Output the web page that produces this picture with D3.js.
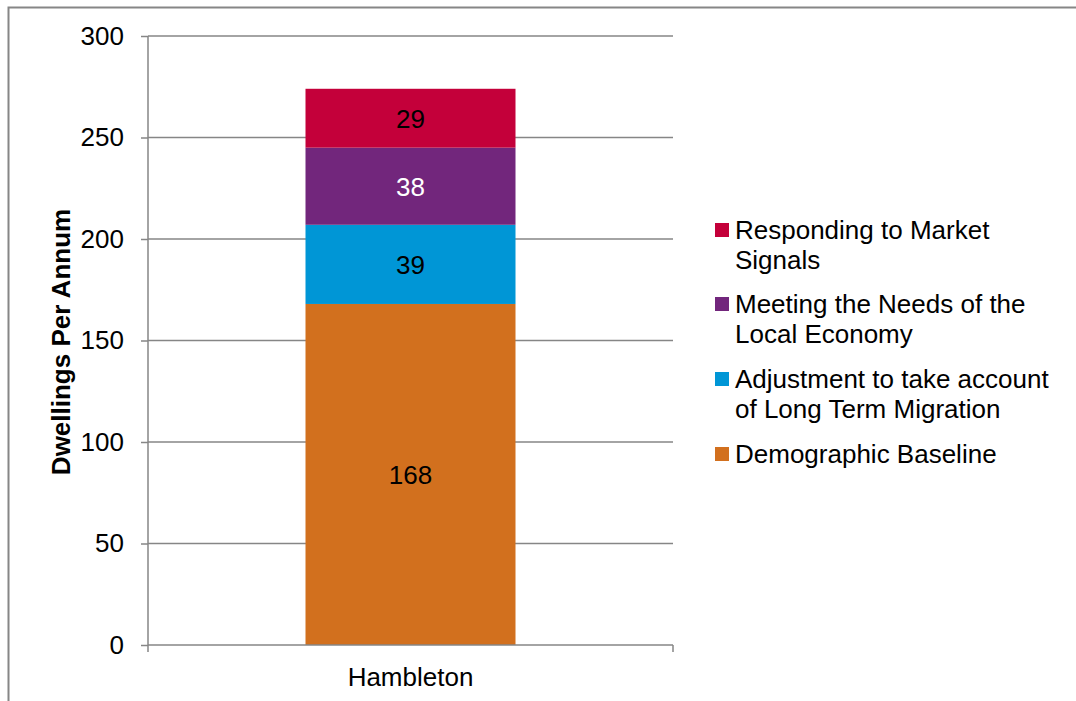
<!DOCTYPE html>
<html><head><meta charset="utf-8">
<script src="https://cdn.jsdelivr.net/npm/d3@7"></script>
<style>body{margin:0;background:#fff}svg{display:block;font-family:"Liberation Sans",Arial,sans-serif}</style>
</head><body><svg id="c" width="1076" height="701"></svg>
<script>
const categories = ["Hambleton"];
const seriesNames = ["Demographic Baseline","Adjustment to take account of Long Term Migration","Meeting the Needs of the Local Economy","Responding to Market Signals"];
const seriesValues = [[168],[39],[38],[29]];
const seriesColors = ["#D2701E","#0096D6","#72267C","#C4003A"];
const labelColors = ["#000","#000","#fff","#000"];
const legendLines = [["Responding to Market","Signals"],["Meeting the Needs of the","Local Economy"],["Adjustment to take account","of Long Term Migration"],["Demographic Baseline"]];
const yTicks = [0,50,100,150,200,250,300];

(function(){
const FS = 26;
const svg = d3.select("#c");
svg.append("path").attr("d","M8.5,701 V7.5 H1076").attr("fill","none").attr("stroke","#868686").attr("stroke-width",2);

const pL=148, pR=673, pT=36, pB=645;
const y = d3.scaleLinear().domain([0,300]).range([pB,pT]);
const x = d3.scaleBand().domain(categories).range([pL,pR]).paddingInner(0).paddingOuter(0.75);

svg.append("g").selectAll("line").data(yTicks.filter(d=>d>0)).join("line")
  .attr("x1",pL).attr("x2",pR).attr("y1",d=>y(d)).attr("y2",d=>y(d))
  .attr("stroke","#868686").attr("stroke-width",1.5);

const rows = categories.map((c,i)=>{const o={cat:c}; seriesNames.forEach((s,j)=>o[s]=seriesValues[j][i]); return o;});
const stack = d3.stack().keys(seriesNames)(rows);
stack.forEach((layer,j)=>{
  const g = svg.append("g");
  g.selectAll("rect").data(layer).join("rect")
    .attr("x",d=>x(d.data.cat)).attr("width",x.bandwidth())
    .attr("y",d=>y(d[1])).attr("height",d=>y(d[0])-y(d[1]))
    .attr("fill",seriesColors[j]);
  g.selectAll("text").data(layer).join("text")
    .attr("x",d=>x(d.data.cat)+x.bandwidth()/2).attr("y",d=>(y(d[0])+y(d[1]))/2)
    .attr("dy","0.36em").attr("text-anchor","middle").attr("font-size",FS)
    .attr("fill",labelColors[j]).text(d=>d[1]-d[0]);
});

const ya = svg.append("g").attr("transform",`translate(${pL},0)`)
  .call(d3.axisLeft(y).tickValues(yTicks).tickSize(7).tickPadding(17));
ya.select(".domain").attr("stroke","#868686").attr("stroke-width",1.5).attr("d",`M0,${pT}V${pB}`);
ya.selectAll(".tick line").attr("stroke","#868686").attr("stroke-width",1.5);
ya.selectAll(".tick text").attr("font-size",FS).attr("fill","#000").attr("font-family","Liberation Sans, Arial, sans-serif");

const xa = svg.append("g").attr("transform",`translate(0,${pB})`);
xa.append("line").attr("x1",pL).attr("x2",pR).attr("stroke","#868686").attr("stroke-width",1.5);
[pL,pR].forEach(px=>xa.append("line").attr("x1",px).attr("x2",px).attr("y1",0).attr("y2",7).attr("stroke","#868686").attr("stroke-width",1.5));
xa.selectAll("text.cat").data(categories).join("text").attr("class","cat")
  .attr("x",d=>x(d)+x.bandwidth()/2).attr("y",41).attr("text-anchor","middle").attr("font-size",FS).text(d=>d);

svg.append("text").attr("transform","translate(70,342) rotate(-90)").attr("text-anchor","middle")
  .attr("font-size",FS).attr("font-weight","bold").text("Dwellings Per Annum");

const lg = svg.append("g");
const legendTop=[239,313,388,463];
legendLines.forEach((lines,i)=>{
  const ci = seriesNames.length-1-i;
  lg.append("rect").attr("x",715).attr("y",legendTop[i]-16).attr("width",14).attr("height",14).attr("fill",seriesColors[ci]);
  lines.forEach((t,k)=>lg.append("text").attr("x",735).attr("y",legendTop[i]+k*30).attr("font-size",FS).text(t));
});
})();
</script></body></html>
